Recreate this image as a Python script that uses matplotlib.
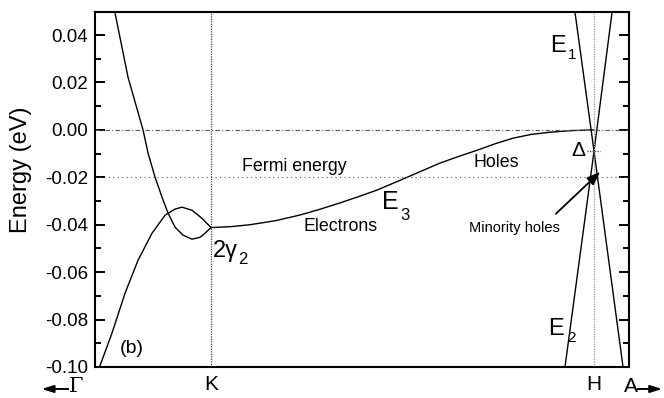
import matplotlib
matplotlib.use("Agg")
import matplotlib.pyplot as plt
from matplotlib.ticker import MultipleLocator

plt.rcParams["font.family"] = ["Liberation Sans", "DejaVu Sans"]

# path coordinate along Gamma-K-H-A, scaled so the plotted window runs 0..1
k_sym = [0.0, 0.2172, 0.9345, 1.0]
k_sym_labels = ["Γ", "K", "H", "A"]

# reference energies (eV)
e_fermi = -0.020
e_top = 0.0
e_delta = -0.009

# Gamma-K branch that falls steeply into K
k_gk_upper = [0.0375, 0.0618, 0.0899, 0.0993, 0.1124, 0.1255, 0.1367,
              0.1498, 0.1648, 0.1816, 0.1966, 0.2060, 0.2172]
e_gk_upper = [0.0493, 0.0222, 0.0000, -0.0098, -0.0199, -0.0284, -0.0351,
              -0.0410, -0.0444, -0.0461, -0.0453, -0.0436, -0.0412]

# Gamma-K branch rising from below
k_gk_lower = [0.0084, 0.0318, 0.0562, 0.0805, 0.1067, 0.1311, 0.1498,
              0.1629, 0.1816, 0.2004, 0.2172]
e_gk_lower = [-0.1000, -0.0857, -0.0689, -0.0550, -0.0436, -0.0360, -0.0334,
              -0.0326, -0.0339, -0.0373, -0.0412]

# E3 along K-H
k_e3 = [0.2172, 0.2550, 0.2903, 0.3380, 0.3839, 0.4210, 0.4588, 0.4930,
        0.5281, 0.5843, 0.6461, 0.6810, 0.7154, 0.7500, 0.7828, 0.8170,
        0.8521, 0.8930, 0.9345]
e_e3 = [-0.0412, -0.0408, -0.0400, -0.0383, -0.0359, -0.0335, -0.0308,
        -0.0282, -0.0254, -0.0200, -0.0140, -0.0112, -0.0086, -0.0058,
        -0.0035, -0.0019, -0.0010, -0.0003, 0.0000]

# E1 / E2 near H
k_e1 = [0.8989, 0.9345, 0.9682]
e_e1 = [0.0495, e_delta, 0.0495]
k_e2 = [0.8801, 0.9345, 0.9888]
e_e2 = [-0.1000, e_delta, -0.1000]

y_ticks = [-0.10, -0.08, -0.06, -0.04, -0.02, 0.00, 0.02, 0.04]


fig = plt.figure(figsize=(6.64, 3.98), dpi=100)
ax = fig.add_axes([0.1431, 0.0779, 0.8042, 0.8907])

lw = 1.0
for k, e in [(k_gk_upper, e_gk_upper), (k_gk_lower, e_gk_lower),
             (k_e3, e_e3), (k_e1, e_e1), (k_e2, e_e2)]:
    ax.plot(k, e, color="black", lw=lw, solid_joinstyle="round")

ax.axhline(e_top, color="0.35", lw=0.8, ls=(0, (4, 2, 1, 2)))
ax.axhline(e_fermi, color="0.35", lw=0.8, ls=(0, (1, 3)))
ax.axvline(k_sym[1], color="0.25", lw=0.9, ls=(0, (1, 1)))
ax.axvline(k_sym[2], color="0.6", lw=0.9, ls=(0, (1, 1)))
ax.hlines(e_delta, 0.921, 0.946, color="0.3", lw=0.9, ls=(0, (1, 1)))

ax.set_xlim(0, 1)
ax.set_ylim(-0.10, 0.0495)
ax.yaxis.set_major_locator(plt.FixedLocator(y_ticks))
ax.yaxis.set_minor_locator(MultipleLocator(0.01))
ax.set_yticklabels([f"{v:.2f}" for v in y_ticks])
ax.tick_params(axis="y", which="both", direction="in", left=True, right=True,
               width=1.4, labelsize=13.5, pad=5)
ax.tick_params(axis="y", which="major", length=7)
ax.tick_params(axis="y", which="minor", length=4.5)

ax.set_xticks(k_sym[1:3])
ax.set_xticklabels(k_sym_labels[1:3], fontsize=15)
ax.tick_params(axis="x", length=0, pad=6)
for s in ax.spines.values():
    s.set_linewidth(1.5)

# end labels with arrows
xt = ax.get_xaxis_transform()
ax.text(-0.036, -0.028, k_sym_labels[0], transform=xt, ha="center", va="top",
        fontsize=15, family="DejaVu Serif")
ax.text(k_sym[3] + 0.003, -0.028, k_sym_labels[3], transform=xt, ha="center",
        va="top", fontsize=15)
ax.annotate("", xy=(-0.100, -0.062), xytext=(-0.050, -0.062), xycoords=xt,
            textcoords=xt, annotation_clip=False,
            arrowprops=dict(arrowstyle="-|>,head_length=0.7,head_width=0.22",
                            color="black", lw=1.4, shrinkA=0, shrinkB=0))
ax.annotate("", xy=(1.062, -0.062), xytext=(1.016, -0.062), xycoords=xt,
            textcoords=xt, annotation_clip=False,
            arrowprops=dict(arrowstyle="-|>,head_length=0.7,head_width=0.22",
                            color="black", lw=1.4, shrinkA=0, shrinkB=0))

fig.text(0.032, 0.573, "Energy (eV)", rotation=90, ha="center", va="center",
         fontsize=17)

# annotations
ax.text(0.275, -0.0156, "Fermi energy", ha="left", va="center", fontsize=12.8)
ax.text(0.708, -0.0139, "Holes", ha="left", va="center", fontsize=12.8)
ax.text(0.391, -0.0409, "Electrons", ha="left", va="center", fontsize=12.8)
ax.text(0.700, -0.0414, "Minority holes", ha="left", va="center", fontsize=10.5)
ax.text(0.0468, -0.0924, "(b)", ha="left", va="center", fontsize=14)

ax.text(0.537, -0.0304, "E", ha="left", va="center", fontsize=18)
ax.text(0.571, -0.0363, "3", ha="left", va="center", fontsize=12)
ax.text(0.852, 0.0354, "E", ha="left", va="center", fontsize=17)
ax.text(0.886, 0.0316, "1", ha="left", va="center", fontsize=11)
ax.text(0.848, -0.0840, "E", ha="left", va="center", fontsize=17)
ax.text(0.884, -0.0878, "2", ha="left", va="center", fontsize=11)
ax.text(0.221, -0.0510, "2γ", ha="left", va="center", fontsize=17)
ax.text(0.268, -0.0546, "2", ha="left", va="center", fontsize=12)
ax.text(0.893, -0.0089, "Δ", ha="left", va="center", fontsize=15)

ax.annotate("", xy=(0.946, -0.0177), xytext=(0.863, -0.0354),
            arrowprops=dict(arrowstyle="-|>,head_length=0.8,head_width=0.3",
                            color="black", lw=1.3, shrinkA=0, shrinkB=0))

fig.savefig("out.png", dpi=100)
